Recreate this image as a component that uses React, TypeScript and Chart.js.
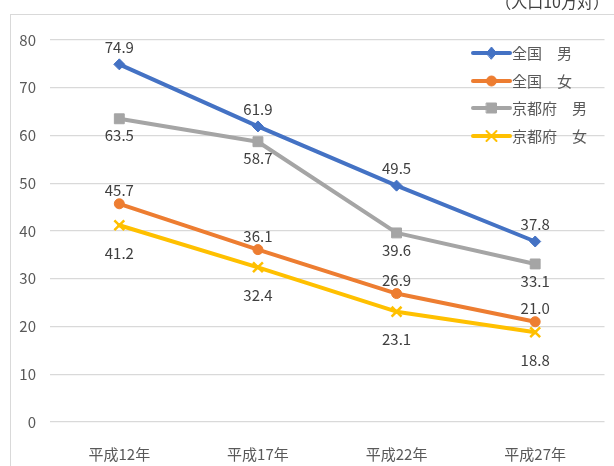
import React, { useEffect, useRef } from "react";
import { Chart, registerables } from "chart.js";

Chart.register(...registerables);

// ---- data ----
const categories = ["平成12年", "平成17年", "平成22年", "平成27年"];
const zenkokuMale = [74.9, 61.9, 49.5, 37.8];
const zenkokuFemale = [45.7, 36.1, 26.9, 21.0];
const kyotoMale = [63.5, 58.7, 39.6, 33.1];
const kyotoFemale = [41.2, 32.4, 23.1, 18.8];
const seriesNames = ["全国　男", "全国　女", "京都府　男", "京都府　女"];
const yMin = 0;
const yMax = 80;
const yStep = 10;
const unitLabel = "（人口10万対）";

const FONT = "'Noto Sans CJK JP', 'Noto Sans', sans-serif";
const COLORS = ["#4472C4", "#ED7D31", "#A5A5A5", "#FFC000"];
const STYLES = ["rectRot", "circle", "rect", "crossRot"];
const LABEL_OFFSETS = [-17, -13, 17, 28];

function drawMarker(ctx: CanvasRenderingContext2D, style: string, x: number, y: number, color: string) {
  ctx.save();
  ctx.fillStyle = color;
  ctx.strokeStyle = color;
  ctx.lineWidth = 1;
  ctx.beginPath();
  if (style === "rectRot") {
    ctx.moveTo(x - 5, y);
    ctx.lineTo(x, y - 6);
    ctx.lineTo(x + 5, y);
    ctx.lineTo(x, y + 6);
    ctx.closePath();
    ctx.fill();
    ctx.stroke();
  } else if (style === "circle") {
    ctx.arc(x, y, 5, 0, Math.PI * 2);
    ctx.fill();
    ctx.stroke();
  } else if (style === "rect") {
    ctx.rect(x - 5, y - 5, 10, 10);
    ctx.fill();
    ctx.stroke();
  } else {
    ctx.lineWidth = 2;
    ctx.moveTo(x - 5, y - 5);
    ctx.lineTo(x + 5, y + 5);
    ctx.moveTo(x + 5, y - 5);
    ctx.lineTo(x - 5, y + 5);
    ctx.stroke();
  }
  ctx.restore();
}

const framePlugin = {
  id: "frame",
  beforeDraw(chart: any) {
    const ctx = chart.ctx as CanvasRenderingContext2D;
    ctx.save();
    ctx.fillStyle = "#ffffff";
    ctx.fillRect(0, 0, chart.width, chart.height);
    ctx.strokeStyle = "#d9d9d9";
    ctx.lineWidth = 1;
    ctx.strokeRect(10.5, 14.5, 800, 800);
    ctx.fillStyle = "#404040";
    ctx.font = `16px ${FONT}`;
    ctx.textAlign = "right";
    ctx.textBaseline = "middle";
    ctx.fillText(unitLabel, 609, 2);
    ctx.restore();
  },
};

const labelsPlugin = {
  id: "valueLabels",
  afterDatasetsDraw(chart: any) {
    const ctx = chart.ctx as CanvasRenderingContext2D;
    ctx.save();
    ctx.font = `15px ${FONT}`;
    ctx.fillStyle = "#404040";
    ctx.textAlign = "center";
    ctx.textBaseline = "middle";
    chart.data.datasets.forEach((ds: any, i: number) => {
      const meta = chart.getDatasetMeta(i);
      meta.data.forEach((pt: any, j: number) => {
        const v = ds.data[j] as number;
        ctx.fillText(v.toFixed(1), pt.x, pt.y + LABEL_OFFSETS[i]);
      });
    });
    ctx.restore();
  },
};

const legendPlugin = {
  id: "insideLegend",
  afterDraw(chart: any) {
    const ctx = chart.ctx as CanvasRenderingContext2D;
    ctx.save();
    const x0 = 473;
    const x1 = 510;
    const ys = [53, 81, 108, 136];
    seriesNames.forEach((name, i) => {
      const y = ys[i];
      ctx.strokeStyle = COLORS[i];
      ctx.lineWidth = 4;
      ctx.lineCap = "round";
      ctx.beginPath();
      ctx.moveTo(x0, y);
      ctx.lineTo(x1, y);
      ctx.stroke();
      drawMarker(ctx, STYLES[i], (x0 + x1) / 2, y, COLORS[i]);
      ctx.fillStyle = "#595959";
      ctx.font = `15px ${FONT}`;
      ctx.textAlign = "left";
      ctx.textBaseline = "middle";
      ctx.fillText(name, 512, y);
    });
    ctx.restore();
  },
};

export default function App() {
  const ref = useRef<HTMLCanvasElement | null>(null);
  useEffect(() => {
    if (!ref.current) return;
    const series = [zenkokuMale, zenkokuFemale, kyotoMale, kyotoFemale];
    const chart = new Chart(ref.current, {
      type: "line",
      data: {
        labels: categories,
        datasets: series.map((d, i) => ({
          label: seriesNames[i],
          data: d,
          borderColor: COLORS[i],
          backgroundColor: COLORS[i],
          borderWidth: 4,
          borderJoinStyle: "round" as const,
          borderCapStyle: "round" as const,
          pointStyle: STYLES[i] as any,
          pointRadius: i === 0 ? 5.5 : i === 1 ? 5 : 7,
          pointBorderWidth: i === 3 ? 2.5 : 1,
          pointBorderColor: COLORS[i],
          pointBackgroundColor: COLORS[i],
          tension: 0,
        })),
      },
      options: {
        responsive: false,
        animation: false,
        layout: { padding: { left: 0, top: 40, right: 8, bottom: 0 } },
        plugins: {
          legend: { display: false },
          tooltip: { enabled: false },
          title: { display: false },
        },
        scales: {
          x: {
            offset: true,
            grid: { display: false },
            border: { display: false },
            ticks: {
              color: "#595959",
              font: { family: FONT, size: 15 },
              padding: 15,
              maxRotation: 0,
            },
            afterFit: (s: any) => {
              s.height = 44;
            },
          },
          y: {
            min: yMin,
            max: yMax,
            grid: { color: "#d9d9d9", lineWidth: 1.3, drawTicks: false },
            border: { display: false },
            ticks: {
              stepSize: yStep,
              color: "#595959",
              font: { family: FONT, size: 15 },
              padding: 14,
            },
            afterFit: (s: any) => {
              s.width = 50;
            },
          },
        },
      },
      plugins: [framePlugin, labelsPlugin, legendPlugin],
    });
    return () => chart.destroy();
  }, []);
  return (
    <div style={{ position: "absolute", left: 0, top: 0, width: 614, height: 466 }}>
      <canvas ref={ref} width={614} height={466} style={{ width: 614, height: 466, display: "block" }} />
    </div>
  );
}
